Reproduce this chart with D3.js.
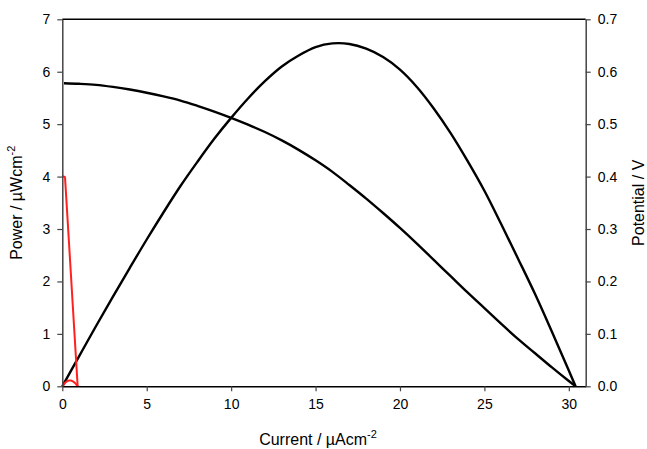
<!DOCTYPE html>
<html><head><meta charset="utf-8">
<script src="https://cdn.jsdelivr.net/npm/d3@7"></script>
<style>
body{margin:0;background:#fff;}
text{font-family:"Liberation Sans",Arial,sans-serif;fill:#000;}
</style></head>
<body><svg id="c" width="647" height="449"></svg>
<script>
// Main cell: current density (µA/cm²), power (µW/cm²), potential (V)
const current = [0,1,2,3,4,5,6,7,8,9,10,11,12,13,14,15,16,17,18,19,20,21,22,23,24,25,26,27,28,29,30,30.4];
const power =   [0,0.577,1.15,1.71,2.26,2.80,3.32,3.82,4.28,4.72,5.12,5.49,5.82,6.10,6.31,6.47,6.54,6.53,6.44,6.28,6.04,5.71,5.30,4.83,4.30,3.73,3.09,2.43,1.76,1.04,0.30,0];
const potCurrent = [0.1,1,2,3,4,5,6,7,8,9,10,11,12,13,14,15,16,17,18,19,20,21,22,23,24,25,26,27,28,29,30,30.4];
const potential = [0.578,0.577,0.575,0.571,0.566,0.560,0.553,0.545,0.535,0.524,0.512,0.499,0.485,0.469,0.451,0.431,0.409,0.384,0.358,0.3305,0.302,0.272,0.241,0.210,0.179,0.149,0.119,0.090,0.063,0.036,0.010,0];
// Control cell (red)
const redCurrent = [0,0.05,0.1,0.16,0.2,0.3,0.4,0.5,0.6,0.7,0.8,0.91];
const redPotential = [0.400,0.400,0.400,0.399,0.378,0.325,0.272,0.219,0.165,0.112,0.059,0];
const redPower = [0,0.02,0.04,0.064,0.076,0.098,0.109,0.110,0.099,0.078,0.047,0];

const xTicks = [0,5,10,15,20,25,30];
const yLeftTicks = [0,1,2,3,4,5,6,7];
const yRightTicks = [0,0.1,0.2,0.3,0.4,0.5,0.6,0.7];

const L=62.3, R=585.7, T=19.3, B=386.3;
const svg = d3.select("#c");
const x = d3.scaleLinear().domain([0,31]).range([L,R]);
const yL = d3.scaleLinear().domain([0,7]).range([B,T]);
const yR = d3.scaleLinear().domain([0,0.7]).range([B,T]);

const line = (xs, ys, sy) => d3.line().x((d,i)=>x(xs[i])).y((d,i)=>sy(ys[i])).curve(d3.curveCatmullRom.alpha(0.5))(ys);

// curves
svg.append("path").attr("d", line(current, power, yL)).attr("fill","none").attr("stroke","#000").attr("stroke-width",2.4).attr("stroke-linejoin","round");
svg.append("path").attr("d", line(potCurrent, potential, yR)).attr("fill","none").attr("stroke","#000").attr("stroke-width",2.4).attr("stroke-linejoin","round");
svg.append("path").attr("d", d3.line().x((d,i)=>x(redCurrent[i])).y(d=>yR(d))(redPotential)).attr("fill","none").attr("stroke","#ff2020").attr("stroke-width",2).attr("stroke-linejoin","round");
svg.append("path").attr("d", line(redCurrent, redPower, yL)).attr("fill","none").attr("stroke","#ff2020").attr("stroke-width",2);

// frame top
svg.append("line").attr("x1",L).attr("x2",R).attr("y1",T).attr("y2",T).attr("stroke","#000").attr("stroke-width",1.5);

const styleAxis = g => {
  g.select(".domain").attr("stroke","#444").attr("stroke-width",1.5);
  g.selectAll(".tick line").attr("stroke","#444").attr("stroke-width",1.2);
  g.selectAll(".tick text").attr("font-size",14).attr("font-family","Liberation Sans, Arial, sans-serif").attr("fill","#000");
};
svg.append("g").attr("transform",`translate(0,${B})`)
  .call(d3.axisBottom(x).tickValues(xTicks).tickSize(5).tickSizeOuter(0).tickPadding(8).tickFormat(d3.format("d")))
  .call(styleAxis).call(g=>g.select(".domain").attr("stroke","#000"));
svg.append("g").attr("transform",`translate(${L},0)`)
  .call(d3.axisLeft(yL).tickValues(yLeftTicks).tickSize(5).tickSizeOuter(0).tickPadding(7).tickFormat(d3.format("d")))
  .call(styleAxis);
svg.append("g").attr("transform",`translate(${R},0)`)
  .call(d3.axisRight(yR).tickValues(yRightTicks).tickSize(5).tickSizeOuter(0).tickPadding(7).tickFormat(d3.format(".1f")))
  .call(styleAxis);

// titles
const xt = svg.append("text").attr("x",318).attr("y",445).attr("text-anchor","middle").attr("font-size",16);
xt.append("tspan").text("Current / µAcm");
xt.append("tspan").attr("dy",-7).attr("font-size",11).text("-2");

const yt = svg.append("text").attr("transform",`translate(22,${(T+B)/2}) rotate(-90)`).attr("text-anchor","middle").attr("font-size",16);
yt.append("tspan").text("Power / µWcm");
yt.append("tspan").attr("dy",-7).attr("font-size",11).text("-2");

svg.append("text").attr("transform",`translate(644,${(T+B)/2}) rotate(-90)`).attr("text-anchor","middle").attr("font-size",16).text("Potential / V");
</script></body></html>
